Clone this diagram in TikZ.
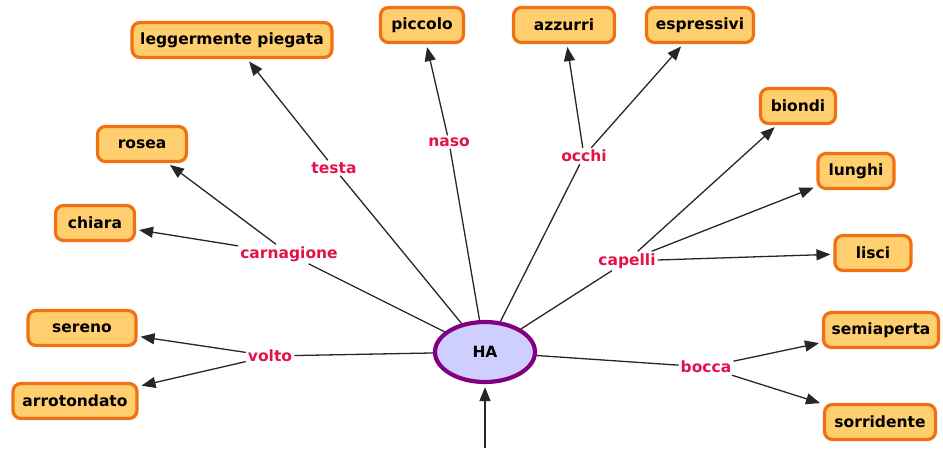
\documentclass[tikz,border=0pt]{standalone}
\usepackage{fontspec}
\setmainfont{DejaVu Sans}
\usetikzlibrary{arrows.meta,shapes.geometric}
\definecolor{boxfill}{RGB}{255,206,110}
\definecolor{boxdraw}{RGB}{240,112,20}
\definecolor{ellfill}{RGB}{206,206,255}
\definecolor{elldraw}{RGB}{128,0,128}
\definecolor{lblcol}{RGB}{226,18,74}
\tikzset{
  conbox/.style={draw=boxdraw, fill=boxfill, line width=3.2pt, rounded corners=8pt,
    minimum height=35pt, inner xsep=8pt, font=\fontsize{15.5}{17}\selectfont\bfseries, text=black},
  linklbl/.style={text=lblcol, inner sep=2pt, font=\fontsize{15.5}{17}\selectfont\bfseries},
  plain/.style={draw=black!85, line width=1.3pt},
  arr/.style={plain, -{Triangle[length=14pt,width=11pt]}, shorten >=3pt},
}
\begin{document}
\begin{tikzpicture}[x=1pt,y=-1pt]
\useasboundingbox (0,0) rectangle (943,448);
% central concept
\node[ellipse, draw=elldraw, fill=ellfill, line width=4.2pt, minimum width=100pt, minimum height=60pt,
  font=\fontsize{15.5}{17}\selectfont\bfseries] (ha) at (485,352) {HA};
% concepts
\node[conbox, minimum width=200pt] (legg) at (232,40) {leggermente piegata};
\node[conbox, minimum width=83pt] (picc) at (422,25) {piccolo};
\node[conbox, minimum width=101pt] (azz) at (564,25) {azzurri};
\node[conbox, minimum width=107pt] (espr) at (700,25) {espressivi};
\node[conbox, minimum width=75pt] (biondi) at (798,106) {biondi};
\node[conbox, minimum width=76pt] (lunghi) at (856,171) {lunghi};
\node[conbox, minimum width=76pt] (lisci) at (873,253) {lisci};
\node[conbox, minimum width=89pt] (rosea) at (142,144) {rosea};
\node[conbox, minimum width=79pt] (chiara) at (95,223) {chiara};
\node[conbox, minimum width=108pt] (sereno) at (82,328) {sereno};
\node[conbox, minimum width=124pt] (arrot) at (75,401) {arrotondato};
\node[conbox, minimum width=115pt] (semi) at (881,330) {semiaperta};
\node[conbox, minimum width=111pt] (sorr) at (880,422) {sorridente};
% linking phrases
\node[linklbl] (testa) at (334,168) {testa};
\node[linklbl] (naso) at (449,142) {naso};
\node[linklbl] (occhi) at (584,156) {occhi};
\node[linklbl] (carn) at (289,254) {carnagione};
\node[linklbl] (capelli) at (627,261) {capelli};
\node[linklbl] (volto) at (270,356) {volto};
\node[linklbl] (bocca) at (706,367) {bocca};
\coordinate (in) at (485,448);
% connectors
\draw[plain] (ha) -- (testa);
\draw[arr] (testa) -- (legg);
\draw[plain] (ha) -- (naso);
\draw[arr] (naso) -- (picc);
\draw[plain] (ha) -- (occhi);
\draw[arr] (occhi) -- (azz);
\draw[arr] (occhi) -- (espr);
\draw[plain] (ha) -- (capelli);
\draw[arr] (capelli) -- (biondi);
\draw[arr] (capelli) -- (lunghi);
\draw[arr] (capelli) -- (lisci);
\draw[plain] (ha) -- (carn);
\draw[arr] (carn) -- (rosea);
\draw[arr] (carn) -- (chiara);
\draw[plain] (ha) -- (volto);
\draw[arr] (volto) -- (sereno);
\draw[arr] (volto) -- (arrot);
\draw[plain] (ha) -- (bocca);
\draw[arr] (bocca) -- (semi);
\draw[arr] (bocca) -- (sorr);
\draw[arr] (in) -- (ha);
\end{tikzpicture}
\end{document}
